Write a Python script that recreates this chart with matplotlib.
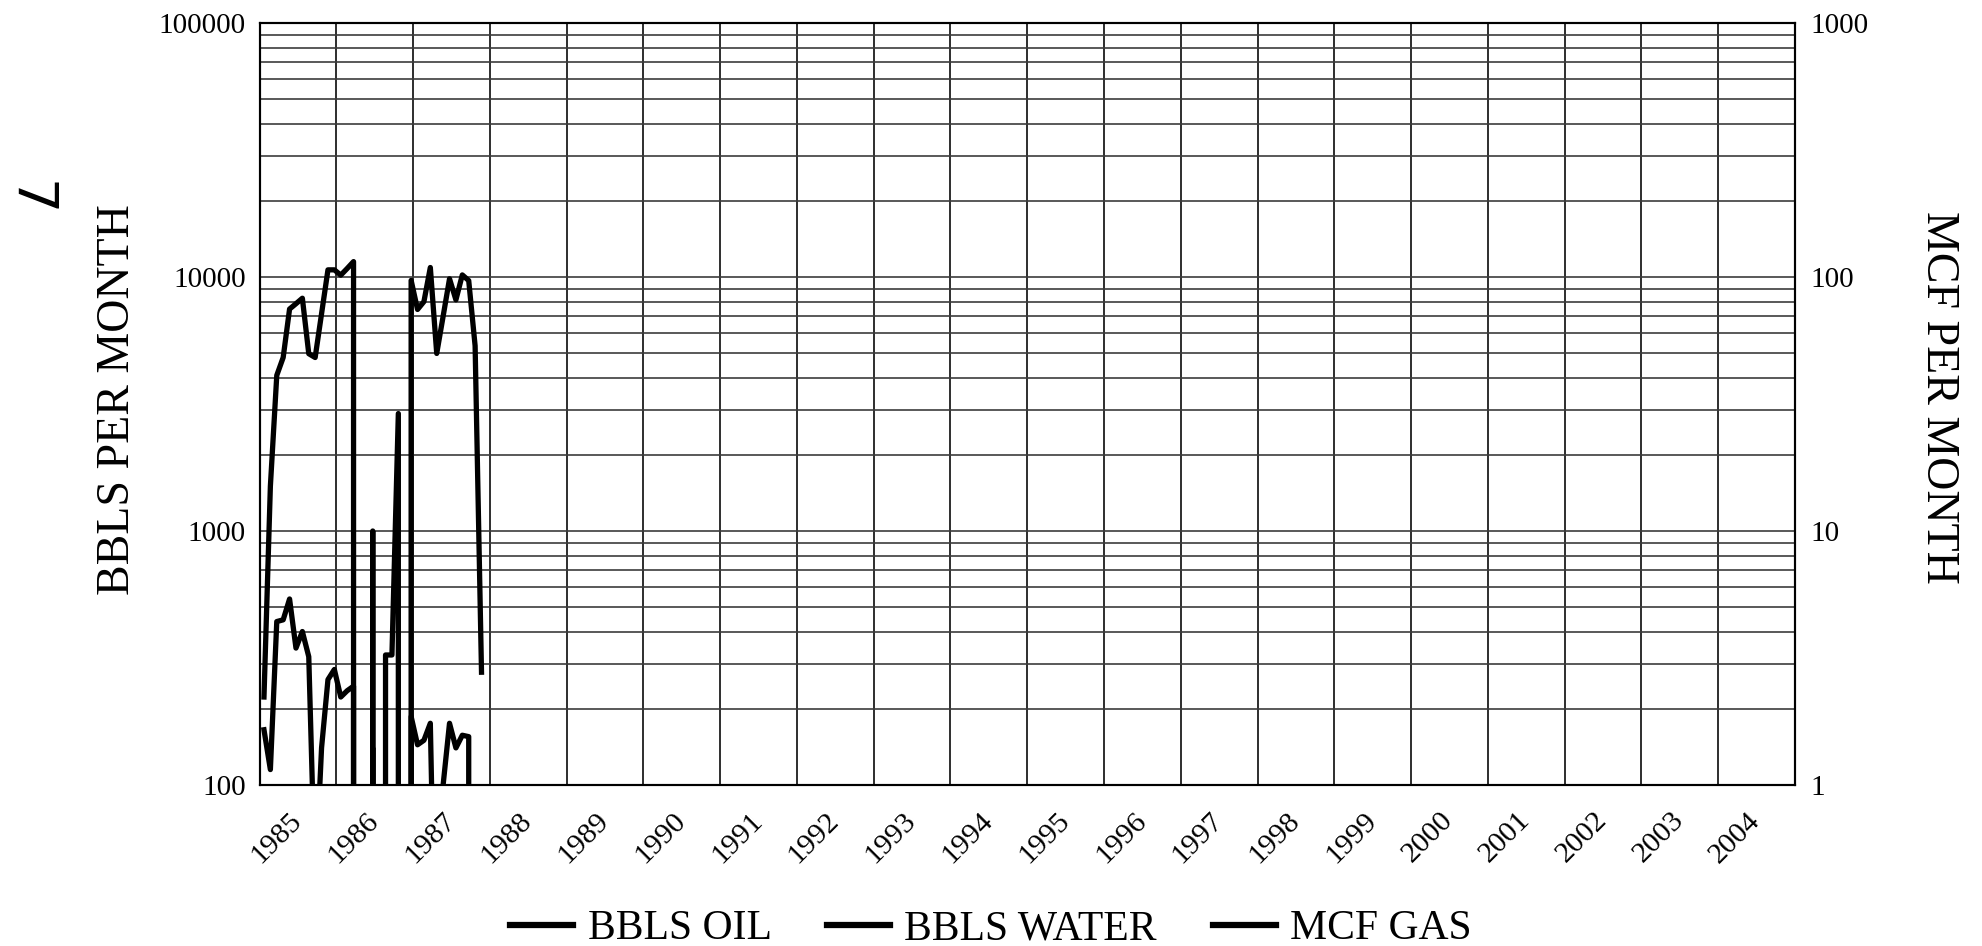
import numpy as np
import matplotlib
matplotlib.use('Agg')
import matplotlib.pyplot as plt
import matplotlib.transforms as mtransforms
from matplotlib.ticker import LogLocator, NullFormatter, FuncFormatter, FixedLocator

plt.rcParams['font.family'] = ['Liberation Serif', 'DejaVu Serif']

# ---- data (monthly, starting January 1985) ----
month_index = np.arange(35)
bbls_oil = [165, 115, 440, 447, 540, 346, 402, 320, 40, 140, 260, 285, 222, 235, 245,
            0, 0, 140, 0, 0, 0, 0, 0,
            186, 144, 150, 175, 10, 100, 175, 140, 157, 155, 0, 0]
bbls_water = [222, 1500, 4100, 4820, 7480, 7850, 8250, 4990, 4820, 7170, 10670, 10670, 10170, 10800, 11500,
              0, 0, 0, 0, 0, 0, 0, 0,
              9700, 7450, 8000, 10900, 5000, 7000, 9840, 8130, 10190, 9680, 5360, 278]
mcf_gas = [0, 0, 0, 0, 0, 0, 0, 0, 0, 0, 0, 0, 0, 0, 0,
           0, 0, 10, 0, 3.25, 3.25, 29, 0,
           0, 0, 0, 0, 0, 0, 0, 0, 0, 0, 0, 0]
years = list(range(1985, 2005))
year_labels = [str(y) for y in years]
series_names = ['BBLS OIL', 'BBLS WATER', 'MCF GAS']

x = years[0] + (month_index + 0.7) / 12.0

W, H = 1982, 946
fig = plt.figure(figsize=(W / 100, H / 100), dpi=100)
ax = fig.add_axes([259.5 / W, 1 - 785 / H, (1795 - 259.5) / W, (785 - 23) / H])

ax.set_yscale('log', nonpositive='clip')
ax.set_ylim(100, 100000)
ax.set_xlim(years[0], years[-1] + 1)

ax2 = ax.twinx()
ax2.set_yscale('log', nonpositive='clip')
ax2.set_ylim(1, 1000)

lw = 3.8
l_oil, = ax.plot(x, bbls_oil, color='black', lw=lw, zorder=3)
l_wat, = ax.plot(x, bbls_water, color='black', lw=lw, zorder=3)
l_gas, = ax2.plot(x, mcf_gas, color='black', lw=lw, zorder=3)

# y axis ticks / grid
for a in (ax, ax2):
    a.yaxis.set_major_locator(LogLocator(base=10, numticks=10))
    a.yaxis.set_minor_locator(LogLocator(base=10, subs=np.arange(2, 10), numticks=20))
    a.yaxis.set_major_formatter(FuncFormatter(lambda v, _: f'{v:.0f}'))
    a.yaxis.set_minor_formatter(NullFormatter())
    a.tick_params(axis='y', which='both', length=0, labelsize=21)
ax.tick_params(axis='y', pad=10)
ax2.tick_params(axis='y', pad=11)

ax.grid(True, which='both', axis='y', color='#3c3c3c', lw=1.2, zorder=1)

# x axis: gridlines at year boundaries, labels at mid-year
ax.xaxis.set_major_locator(FixedLocator(years + [years[-1] + 1]))
ax.set_xticklabels([])
ax.set_xticks([y + 0.5 for y in years], minor=True)
ax.set_xticklabels(year_labels, minor=True, rotation=45, ha='right', fontsize=21.5)
ax.tick_params(axis='x', which='both', length=0, pad=16)
ax.grid(True, which='major', axis='x', color='#1e1e1e', lw=1.3, zorder=1)
offset = mtransforms.ScaledTranslation(9 / 100, 0, fig.dpi_scale_trans)
for lbl in ax.get_xticklabels(minor=True):
    lbl.set_transform(lbl.get_transform() + offset)

for a in (ax, ax2):
    for s in a.spines.values():
        s.set_linewidth(1.5)
        s.set_color('black')

# axis titles
fig.text(117.5 / W, 1 - 400 / H, 'BBLS PER MONTH', rotation=90, ha='center', va='center', fontsize=33)
fig.text(1938.5 / W, 1 - 397 / H, 'MCF PER MONTH', rotation=270, ha='center', va='center', fontsize=33)

# handwritten mark
fig.text(29 / W, 1 - 199 / H, '7', rotation=-90, ha='center', va='center', fontsize=40, family='DejaVu Sans')

leg = fig.legend([l_oil, l_wat, l_gas], series_names, loc='center', bbox_to_anchor=(0.5, 1 - 929 / H),
                 ncol=3, frameon=False, fontsize=30, handlelength=1.51, handletextpad=0.34,
                 columnspacing=1.34)
for ln in leg.get_lines():
    ln.set_linewidth(4.5)

fig.savefig('out.png', dpi=100)
